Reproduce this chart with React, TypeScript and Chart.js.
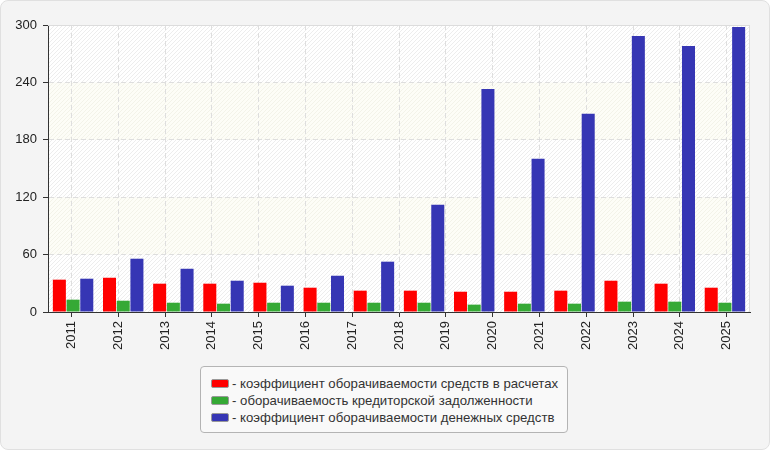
import React, { useEffect, useRef } from 'react'
import { Chart, registerables } from 'chart.js'

Chart.register(...registerables)

// year labels on the axis (15) and the bar groups as drawn (14)
const years = ['2011','2012','2013','2014','2015','2016','2017','2018','2019','2020','2021','2022','2023','2024','2025']
const groups = years.slice(0, 14)

const receivables = [33.8, 35.8, 29.6, 29.6, 30.6, 25.4, 22.3, 22.3, 21.2, 21.2, 22.3, 32.7, 29.6, 25.4]
const payables = [12.9, 11.8, 9.7, 8.7, 9.7, 9.7, 9.7, 9.7, 7.7, 8.7, 8.7, 10.8, 10.8, 9.7]
const cash = [34.8, 55.7, 45.2, 32.7, 27.5, 37.9, 52.6, 112.1, 233.2, 160.1, 207.1, 288.5, 278.1, 297.9]

const yTicks = [0, 60, 120, 180, 240, 300]

const seriesNames = [
  'коэффициент оборачиваемости средств в расчетах',
  'оборачиваемость кредиторской задолженности',
  'коэффициент оборачиваемости денежных средств'
]
const seriesColors = ['#ff0000', '#35a935', '#3636b4']

const FONT = '"Liberation Sans", Arial, sans-serif'

function hatch(ctx: CanvasRenderingContext2D, bg: string, line: string) {
  const c = document.createElement('canvas')
  c.width = 4
  c.height = 4
  const g = c.getContext('2d')!
  g.fillStyle = bg
  g.fillRect(0, 0, 4, 4)
  g.strokeStyle = line
  g.lineWidth = 1
  g.beginPath()
  g.moveTo(0, 4); g.lineTo(4, 0)
  g.moveTo(-1, 1); g.lineTo(1, -1)
  g.moveTo(3, 5); g.lineTo(5, 3)
  g.stroke()
  return ctx.createPattern(c, 'repeat')
}

const bandsPlugin = {
  id: 'bands',
  beforeDraw(chart: any) {
    const { ctx, chartArea: a, scales } = chart
    const y = scales.y
    const gray = hatch(ctx, '#ffffff', '#ededed')
    const cream = hatch(ctx, '#fdfdf7', '#f3f3e9')
    ctx.save()
    for (let i = 0; i < yTicks.length - 1; i++) {
      const top = y.getPixelForValue(yTicks[i + 1])
      const bot = y.getPixelForValue(yTicks[i])
      ctx.fillStyle = (i % 2 === 0 ? gray : cream) as any
      ctx.fillRect(a.left, top, a.right - a.left, bot - top)
    }
    ctx.restore()
  },
  beforeDatasetsDraw(chart: any) {
    const { ctx, chartArea: a } = chart
    ctx.save()
    ctx.strokeStyle = '#dcdcdc'
    ctx.lineWidth = 1
    ctx.beginPath()
    ctx.moveTo(a.left, a.top + 0.5)
    ctx.lineTo(a.right - 0.5, a.top + 0.5)
    ctx.lineTo(a.right - 0.5, a.bottom)
    ctx.stroke()
    ctx.restore()
  }
}

export default function App() {
  const canvasRef = useRef<HTMLCanvasElement | null>(null)

  useEffect(() => {
    document.body.style.margin = '0'
    const el = canvasRef.current
    if (!el) return

    const data = [receivables, payables, cash]
    const chart = new Chart(el, {
      type: 'bar',
      data: {
        labels: groups,
        datasets: data.map((d, i) => ({
          label: seriesNames[i],
          data: d,
          backgroundColor: seriesColors[i],
          borderWidth: 0,
          barPercentage: 0.95,
          categoryPercentage: 0.82,
          xAxisID: 'x'
        }))
      },
      options: {
        animation: false,
        responsive: false,
        layout: { padding: { top: 25, right: 20, left: 0, bottom: 0 } },
        plugins: { legend: { display: false }, tooltip: { enabled: false } },
        scales: {
          x: { type: 'category', display: false, offset: true },
          years: {
            type: 'category',
            position: 'bottom',
            labels: years,
            offset: true,
            grid: { offset: false, color: '#dedede', tickColor: '#333', tickLength: 5, tickBorderDash: [] },
            border: { display: true, color: '#333', width: 1, dash: [5, 3] },
            ticks: { autoSkip: false, minRotation: 90, maxRotation: 90, padding: 4, color: '#222', font: { size: 13, family: FONT } },
            afterFit: (s: any) => { s.height = 48 }
          },
          y: {
            min: 0,
            max: 300,
            afterBuildTicks: (s: any) => { s.ticks = yTicks.map(v => ({ value: v })) },
            grid: { color: '#dedede', tickColor: '#333', tickLength: 5, tickBorderDash: [] },
            border: { display: true, color: '#333', width: 1, dash: [5, 3] },
            ticks: { padding: 6, color: '#222', font: { size: 13, family: FONT } },
            afterFit: (s: any) => { s.width = 48 }
          }
        }
      } as any,
      plugins: [bandsPlugin]
    })

    return () => chart.destroy()
  }, [])

  return (
    <div style={{ position: 'relative', width: 770, height: 450, boxSizing: 'border-box', background: '#f4f4f4', border: '1px solid #e0e0e0', borderRadius: 8, overflow: 'hidden', fontFamily: FONT }}>
      <canvas ref={canvasRef} width={770} height={360} style={{ position: 'absolute', left: -1, top: -1, width: 770, height: 360 }} />
      <div style={{ position: 'absolute', left: 199, top: 365, width: 368, height: 67, boxSizing: 'border-box', background: '#f9f9f9', border: '1px solid #b4b4b4', borderRadius: 4, padding: '8px 0 0 10px' }}>
        {seriesNames.map((n, i) => (
          <div key={n} style={{ display: 'flex', alignItems: 'center', height: 17, fontSize: 13.2, color: '#333', whiteSpace: 'nowrap' }}>
            <span style={{ display: 'inline-block', width: 16, height: 7, background: seriesColors[i], border: '1px solid #999', borderRadius: 2, marginRight: 3 }} />
            <span>- {n}</span>
          </div>
        ))}
      </div>
    </div>
  )
}
